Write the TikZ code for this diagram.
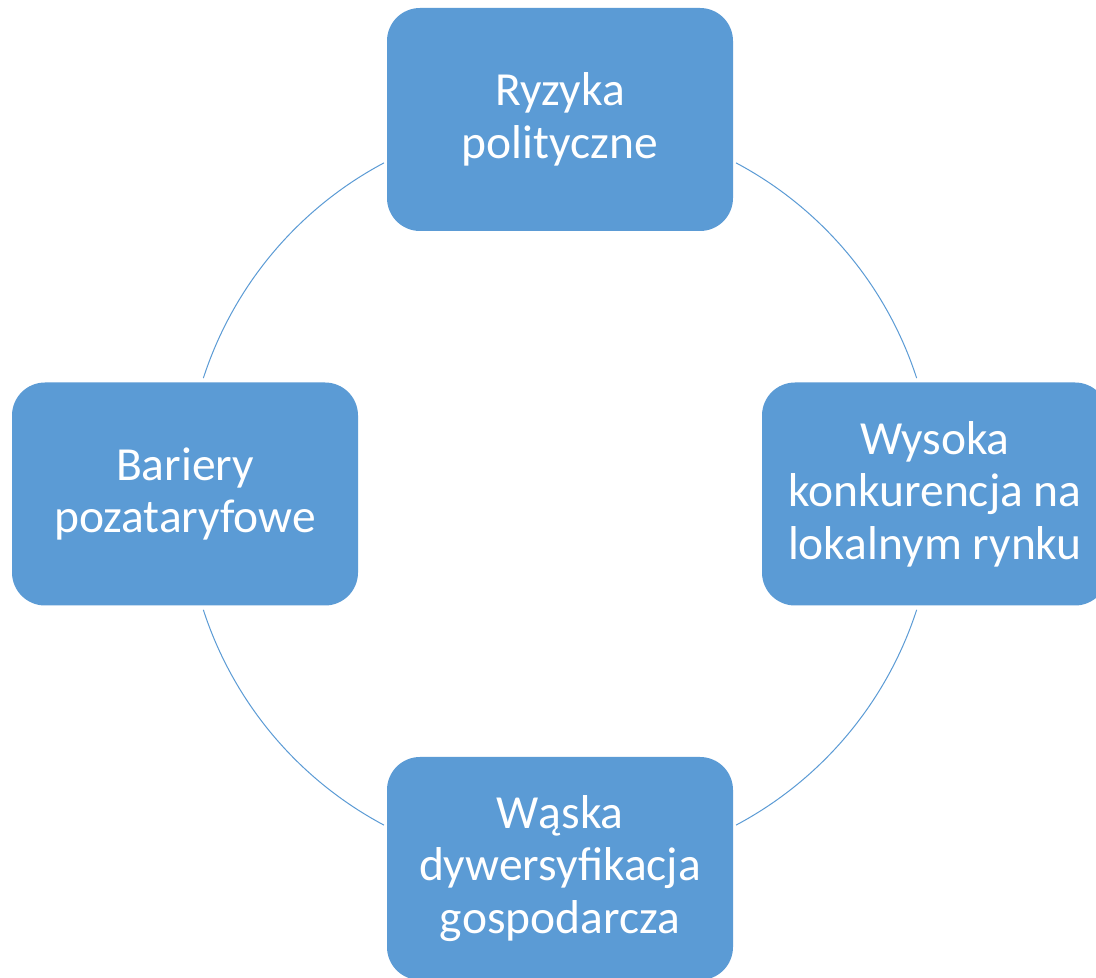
\documentclass[tikz,border=0pt]{standalone}
\usepackage{fontspec}
\setmainfont{Carlito}
\definecolor{boxblue}{HTML}{5B9BD5}
\begin{document}
\begin{tikzpicture}[x=1pt,y=1pt,
  box/.style={fill=boxblue, draw=none, rounded corners=33pt,
    minimum width=346pt, minimum height=223pt, inner sep=0pt,
    text=white, align=center, font=\fontsize{47.5}{52.5}\selectfont},
  ring/.style={draw=boxblue, line width=1pt}]
\useasboundingbox[fill=white] (0,0) rectangle (1096,978);
\coordinate (O) at (560,484);
\node[box] (top) at (560,858.5) {Ryzyka\\polityczne};
\node[box] (right) at (935,484) {Wysoka\\konkurencja na\\lokalnym rynku};
\node[box] (bottom) at (560,109.5) {Wąska\\dywersyfikacja\\gospodarcza};
\node[box] (left) at (185,484) {Bariery\\pozataryfowe};
\draw[ring] ([shift={(118:375pt)}]O) arc[start angle=118, end angle=162, radius=375pt];
\draw[ring] ([shift={(198:375pt)}]O) arc[start angle=198, end angle=242, radius=375pt];
\draw[ring] ([shift={(298:375pt)}]O) arc[start angle=298, end angle=342, radius=375pt];
\draw[ring] ([shift={(18:375pt)}]O) arc[start angle=18, end angle=62, radius=375pt];
\end{tikzpicture}
\end{document}
